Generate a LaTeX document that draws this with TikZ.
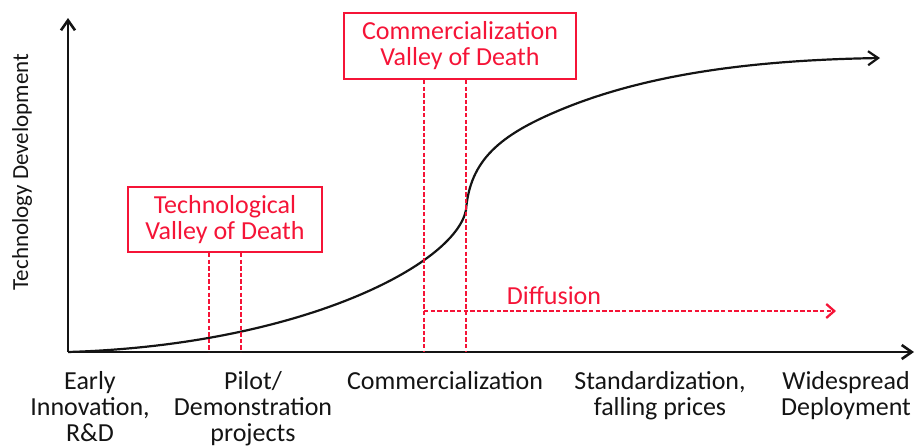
\documentclass[tikz,border=0pt]{standalone}
\usepackage{fontspec}
\setmainfont{Carlito}
\usetikzlibrary{arrows.meta}
\definecolor{vred}{RGB}{245,20,55}
\definecolor{ink}{RGB}{20,20,20}
\tikzset{
  axis/.style={line width=1.3pt, ink, -{Straight Barb[length=5pt,width=7pt]}},
  curve/.style={line width=1.1pt, ink, -{Straight Barb[length=5pt,width=7pt]}},
  reddash/.style={line width=1.15pt, vred, dash pattern=on 2.2pt off 1.1pt},
  redbox/.style={draw=vred, line width=1pt, text=vred, align=center, inner sep=0pt, font=\fontsize{13}{13}\selectfont},
  stage/.style={text=ink, align=center, anchor=north, inner sep=0pt, font=\fontsize{13}{13}\selectfont},
}
\begin{document}
\begin{tikzpicture}[x=0.5pt,y=-0.5pt]
\useasboundingbox (0,0) rectangle (916,447);
% axes
\coordinate (O) at (68,352);
\coordinate (ytop) at (68,18);
\coordinate (xend) at (914,352);
\draw[axis] (O) -- (ytop);
\draw[axis] (O) -- (xend);
\node[rotate=90, text=ink, inner sep=0pt, font=\fontsize{11.5}{12}\selectfont] (ylab) at (22,172) {Technology Development};
% curve
\coordinate (k1) at (466,210);
\coordinate (k2) at (560,110);
\coordinate (cend) at (880,58);
\draw[curve] (O) .. controls (300,345) and (455,265) .. (k1)
  .. controls (470,160) and (500,135) .. (k2)
  .. controls (650,72.5) and (760,60) .. (cend);
% boxes
\node[redbox] (tbox) at (225,219.5) [minimum width=97pt, minimum height=32.5pt] {Technological\\Valley of Death};
\node[redbox] (cbox) at (460,46) [minimum width=116pt, minimum height=33pt] {Commercialization\\Valley of Death};
% valley lines
\coordinate (t1) at (209,352);
\coordinate (t2) at (241,352);
\coordinate (c1) at (424,352);
\coordinate (c2) at (466,352);
\draw[reddash] (t1 |- tbox.south) -- (t1);
\draw[reddash] (t2 |- tbox.south) -- (t2);
\draw[reddash] (c1 |- cbox.south) -- (c1);
\draw[reddash] (c2 |- cbox.south) -- (c2);
% diffusion
\coordinate (dstart) at (424,311);
\coordinate (dend) at (836,311);
\draw[reddash, -{Straight Barb[length=4pt,width=7pt]}] (dstart) -- (dend);
\node[text=vred, inner sep=0pt, font=\fontsize{13}{13}\selectfont] (dlab) at (554,296) {Diffusion};
% stage labels
\node[stage] (s1) at (90,371) {Early\\Innovation,\\R\&D};
\node[stage] (s2) at (253,371) {Pilot/\\Demonstration\\projects};
\node[stage] (s3) at (445,371) {Commercialization};
\node[stage] (s4) at (660,371) {Standardization,\\falling prices};
\node[stage] (s5) at (846,371) {Widespread\\Deployment};
\end{tikzpicture}
\end{document}
